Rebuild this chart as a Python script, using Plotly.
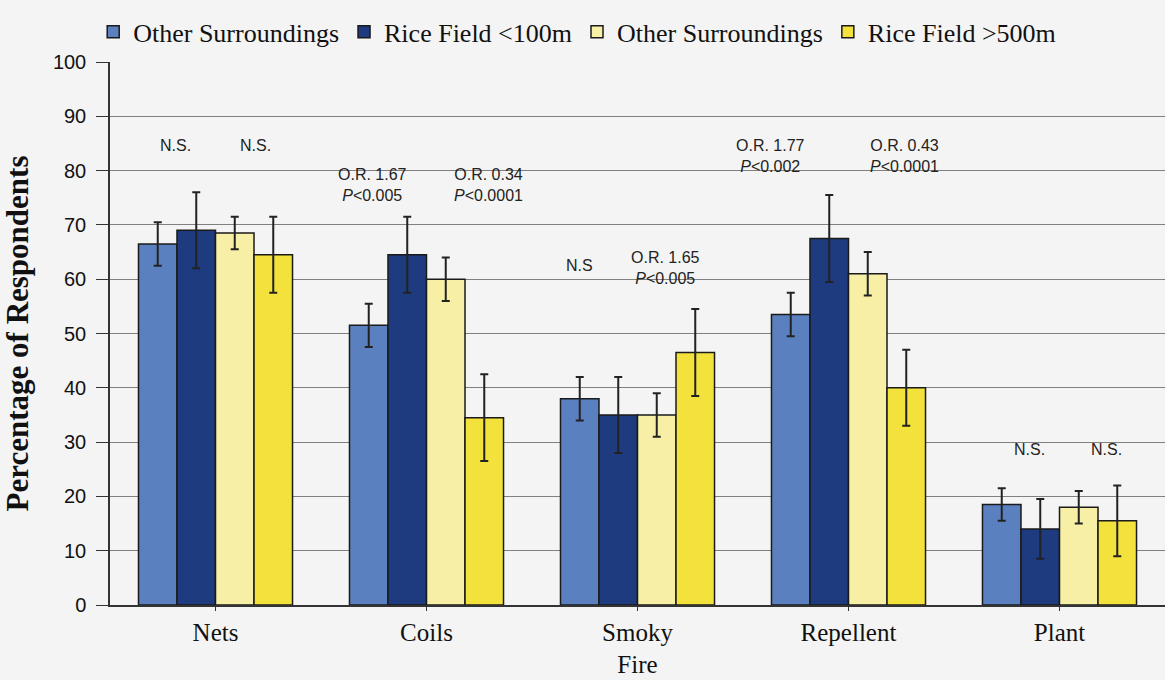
import plotly.graph_objects as go

categories = ["Nets", "Coils", "Smoky<br>Fire", "Repellent", "Plant"]
series_names = ["Other Surroundings", "Rice Field <100m", "Other Surroundings", "Rice Field >500m"]
other_near = [66.5, 51.5, 38.0, 53.5, 18.5]
rice_near = [69.0, 64.5, 35.0, 67.5, 14.0]
other_far = [68.5, 60.0, 35.0, 61.0, 18.0]
rice_far = [64.5, 34.5, 46.5, 40.0, 15.5]
err_other_near = [4.0, 4.0, 4.0, 4.0, 3.0]
err_rice_near = [7.0, 7.0, 7.0, 8.0, 5.5]
err_other_far = [3.0, 4.0, 4.0, 4.0, 3.0]
err_rice_far = [7.0, 8.0, 8.0, 7.0, 6.5]
colors = ["#5b80c0", "#1d3b7e", "#f7efa6", "#f4e23c"]

# annotations: (category index, text, y value, pixel shift)
ann_text = ["N.S.", "N.S.", "O.R. 1.67<br><i>P</i><0.005", "O.R. 0.34<br><i>P</i><0.0001",
            "N.S", "O.R. 1.65<br><i>P</i><0.005", "O.R. 1.77<br><i>P</i><0.002",
            "O.R. 0.43<br><i>P</i><0.0001", "N.S.", "N.S."]
ann_cat = [0, 0, 1, 1, 2, 2, 3, 3, 4, 4]
ann_y = [84.7, 84.7, 77.3, 77.3, 62.6, 62.0, 82.7, 82.7, 28.7, 28.7]
ann_shift = [-40, 40, -54, 62, -58, 28, -78, 56, -30, 47]

values = [other_near, rice_near, other_far, rice_far]
errors = [err_other_near, err_rice_near, err_other_far, err_rice_far]

fig = go.Figure()
for name, vals, errs, col in zip(series_names, values, errors, colors):
    fig.add_trace(go.Bar(
        x=categories, y=vals, name=name,
        marker=dict(color=col, line=dict(color="#1a1a1a", width=1.5)),
        error_y=dict(type="data", array=errs, visible=True, color="#222222",
                     thickness=2, width=4),
    ))

for c, t, y, s in zip(ann_cat, ann_text, ann_y, ann_shift):
    fig.add_annotation(x=categories[c], y=y, text=t, xref="x", yref="y",
                       xshift=s, showarrow=False,
                       font=dict(family="Liberation Sans, Arial", size=16, color="#222222"))

fig.update_layout(
    width=1165, height=680,
    margin=dict(l=110, r=0, t=62, b=75, autoexpand=False),
    paper_bgcolor="#f4f4f4", plot_bgcolor="#f4f4f4",
    barmode="group", bargap=0.27, bargroupgap=0.0,
    showlegend=True,
    legend=dict(orientation="h", x=0.08, xref="container", y=0.953, yref="container",
                xanchor="left", yanchor="middle",
                font=dict(family="Liberation Serif, Times New Roman", size=26, color="#111111"),
                bgcolor="rgba(0,0,0,0)", itemwidth=30, tracegroupgap=0),
    font=dict(family="Liberation Serif", color="#111111"),
)
fig.update_xaxes(
    showline=True, linecolor="#333333", linewidth=1.5, automargin=False,
    ticks="outside", ticklen=4, tickcolor="#333333",
    tickfont=dict(family="Liberation Serif, Times New Roman", size=25, color="#111111"),
    range=[-0.5, 4.5],
)
fig.update_yaxes(
    range=[0, 100], dtick=10, showgrid=True, gridcolor="#808080", gridwidth=1,
    showline=True, linecolor="#333333", linewidth=1.5, automargin=False,
    ticks="outside", ticklen=12, tickcolor="#333333", ticklabelstandoff=6,
    tickfont=dict(family="Liberation Sans, Arial", size=20, color="#111111"),
    title=dict(text="<b>Percentage of Respondents</b>", standoff=30,
               font=dict(family="Liberation Serif, Times New Roman", size=31, color="#111111")),
    zeroline=False,
)

fig.write_html("out.html", config={"displayModeBar": False},
               post_script="document.body.style.margin='0';document.body.style.overflow='hidden';")
